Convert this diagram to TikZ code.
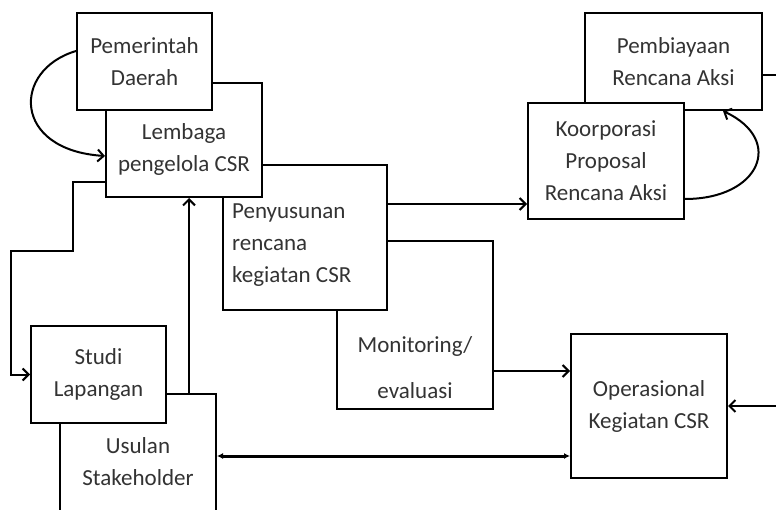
\documentclass[tikz,border=0pt]{standalone}
\usepackage{fontspec}
\setmainfont{Carlito}
\usepackage{tikz}
\usetikzlibrary{arrows.meta, positioning, calc}
\tikzstyle{kotak} = [
  rectangle, draw=black, fill=white, line width=2pt, inner sep=0pt,
  text=black!80, align=center, font=\fontsize{23}{32}\selectfont
]
\tikzstyle{teks} = [text=black!80, align=center, inner sep=0pt, font=\fontsize{23}{32}\selectfont]
\tikzstyle{panah} = [-{Straight Barb[length=6pt, width=12pt]}, line width=2pt]
\tikzstyle{duaarah} = [{Latex[length=6pt, width=6pt]}-{Latex[length=6pt, width=6pt]}, line width=3pt]
\tikzstyle{garis} = [line width=2pt]

\begin{document}
\begin{tikzpicture}[x=1pt, y=1pt]

  \useasboundingbox (0,0) rectangle (776,509);
  \clip (0,0) rectangle (776,509);

  \node[kotak, minimum width=156, minimum height=168] (monev) at (415,184) {};
  \node[kotak, minimum width=164, minimum height=145] (susun) at (305,271.5) {};
  \node[teks, align=left, anchor=west] (susuntxt) at (232,264) {Penyusunan\\rencana\\kegiatan CSR};
  \node[kotak, minimum width=156, minimum height=114] (lembaga) at (184,369) {};
  \node[kotak, minimum width=135, minimum height=97] (pemda) at (144.5,447.5) {Pemerintah\\Daerah};
  \node[teks] (lembagatxt) at (184,360) {Lembaga\\pengelola CSR};
  \node[teks] (monevtxt) at (415,141) {Monitoring/\\[14pt]evaluasi};
  \node[kotak, minimum width=156, minimum height=136] (usulan) at (138,47) {Usulan\\Stakeholder};
  \node[kotak, minimum width=135, minimum height=97] (studi) at (98.5,134.5) {Studi\\Lapangan};
  \node[kotak, minimum width=177, minimum height=97] (biaya) at (673.5,447.5) {Pembiayaan\\Rencana Aksi};
  \node[kotak, minimum width=156, minimum height=116] (korp) at (606,348) {Koorporasi\\Proposal\\Rencana Aksi};
  \node[kotak, minimum width=156, minimum height=144] (operasi) at (649,103) {Operasional\\Kegiatan CSR};

  \coordinate (keluar) at (776,434);
  \coordinate (masuk) at (776,103);

  % alur kiri
  \draw[panah] ([yshift=10.5pt]pemda.west) .. controls (12,439) and (12,359) .. ([yshift=-16pt]lembaga.west);
  \draw[panah] ([yshift=-42pt]lembaga.west) -| (73,258) -| (11,134.5) -- (studi.west);
  \draw[panah] ([xshift=51pt]usulan.north) -- ([xshift=5pt]lembaga.south);

  % alur kanan
  \draw[panah] ([yshift=33.5pt]susun.east) -- ([yshift=33.5pt]susun.east -| korp.west);
  \draw[panah] ([yshift=-38pt]korp.east) .. controls (760,310) and (785,369) .. ([xshift=49.5pt]biaya.south);
  \draw[garis] ([yshift=-13.5pt]biaya.east) -- (keluar);
  \draw[panah] ([yshift=-46pt]monev.east) -- ([yshift=-46pt]monev.east -| operasi.west);
  \draw[duaarah] ([yshift=6pt]usulan.east) -- ([yshift=6pt]usulan.east -| operasi.west);
  \draw[panah] (masuk) -- (operasi.east);

\end{tikzpicture}
\end{document}
